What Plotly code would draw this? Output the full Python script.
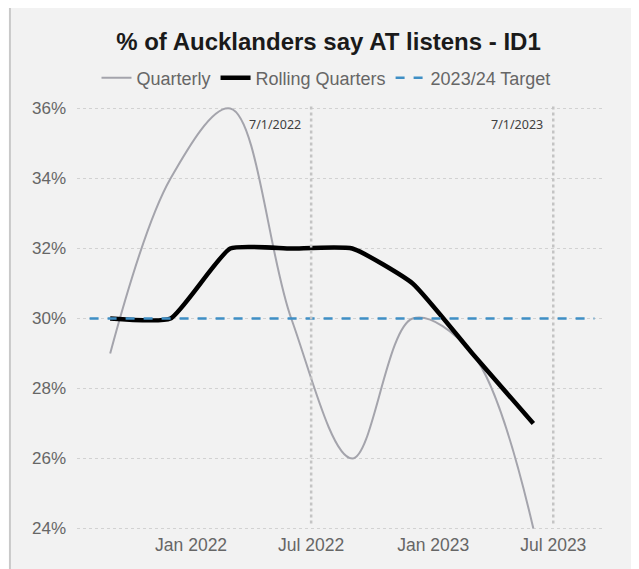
"""% of Aucklanders say AT listens - ID1 (quarterly vs rolling, with target)."""
import plotly.graph_objects as go

# quarter dates (first of the month the survey is reported against)
dates = [
    "2021-09-01", "2021-12-01", "2022-03-01", "2022-06-01",
    "2022-09-01", "2022-12-01", "2023-03-01", "2023-06-01",
]
quarterly = [29, 34, 36, 30, 26, 30, 29, 24]
rolling = [30, 30, 32, 32, 32, 31, 29, 27]

target_dates = ["2021-08-01", "2023-09-01"]
target = [30, 30]

ref_dates = ["2022-07-01", "2023-07-01"]
ref_labels = ["7/1/2022", "7/1/2023"]

y_ticks = [24, 26, 28, 30, 32, 34, 36]
y_tick_text = [f"{v}%" for v in y_ticks]

GREY_TEXT = "#666666"
FONT = "Liberation Sans, Arial, sans-serif"

# the page body adds an 8px offset, so sizes below are pulled in by that much
W, H = 639, 569

fig = go.Figure()
fig.add_scatter(
    x=dates, y=quarterly, name="Quarterly", mode="lines",
    line=dict(color="#a4a4ac", width=2, shape="spline", smoothing=1.0),
)
fig.add_scatter(
    x=dates, y=rolling, name="Rolling Quarters", mode="lines",
    line=dict(color="#000000", width=4.5, shape="spline", smoothing=0.45),
)
fig.add_scatter(
    x=target_dates, y=target, name="2023/24 Target", mode="lines",
    line=dict(color="#3f8fc5", width=2.5, dash="dash"),
)

# panel background with the thin grey frame
fig.add_shape(
    type="rect", xref="paper", yref="paper",
    x0=-0.127, x1=1.2, y0=-0.3, y1=1.2295,
    fillcolor="#f2f2f2", line=dict(color="#c9c9c9", width=2), layer="below",
)

for d, lab in zip(ref_dates, ref_labels):
    fig.add_shape(
        type="line", xref="x", yref="paper", x0=d, x1=d, y0=0.02, y1=1.0,
        line=dict(color="#c4c4c4", width=2.5, dash="dot"),
    )
    fig.add_annotation(
        x=d, xref="x", y=0.955, yref="paper", text=lab, showarrow=False,
        xanchor="right", yanchor="middle", xshift=-8,
        font=dict(family="Noto Sans, Open Sans, sans-serif", size=12.5, color="#404040"),
    )

fig.update_layout(
    width=W, height=H,
    margin=dict(l=69, r=42, t=97, b=44.5, autoexpand=False),
    paper_bgcolor="white",
    plot_bgcolor="rgba(0,0,0,0)",
    font=dict(family=FONT, color=GREY_TEXT, size=17),
    title=dict(
        text="<b>% of Aucklanders say AT listens - ID1</b>",
        x=320.5 / W, xref="container", xanchor="center",
        y=1 - 34 / H, yref="container", yanchor="middle",
        font=dict(family=FONT, size=24, color="#1a1a1a"),
    ),
    legend=dict(
        orientation="h", x=0.4716, xanchor="center", y=1.063, yanchor="middle",
        bgcolor="rgba(0,0,0,0)", font=dict(size=18, color=GREY_TEXT),
        itemwidth=30, tracegroupgap=0,
    ),
    showlegend=True,
)
fig.update_xaxes(
    type="date", range=["2021-07-13", "2023-09-17"],
    tick0="2022-01-01", dtick="M6", tickformat="%b %Y",
    showgrid=False, zeroline=False, showline=False, automargin=False,
    tickfont=dict(size=17.5, color=GREY_TEXT),
)
fig.update_yaxes(
    range=[23.9, 36.1], tickvals=y_ticks, ticktext=y_tick_text,
    showgrid=True, gridcolor="#d2d2d2", gridwidth=1, griddash="dot",
    zeroline=False, showline=False, automargin=False, ticklabelstandoff=10,
    tickfont=dict(size=17, color=GREY_TEXT),
)

fig.write_html("out.html")
